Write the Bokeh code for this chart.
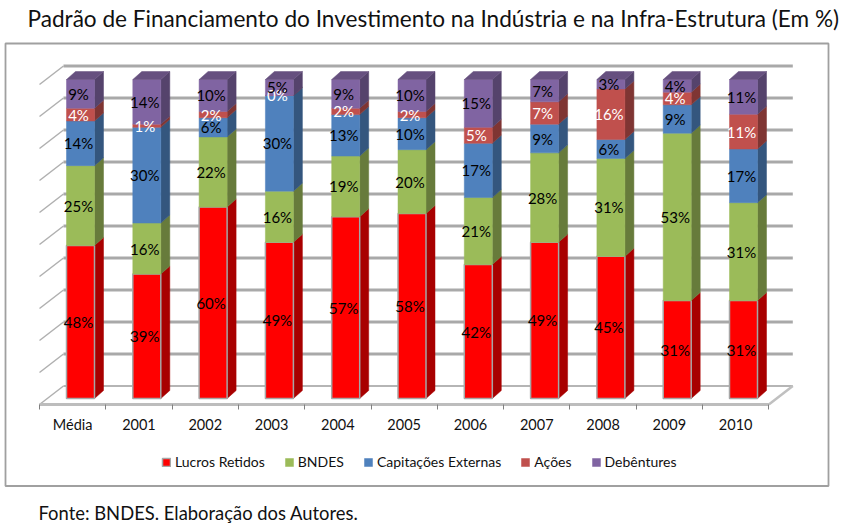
from bokeh.plotting import figure
from bokeh.models import Range1d, LinearAxis, FixedTicker, Legend, LegendItem, Label
from bokeh.core.properties import value
from bokeh.embed import file_html
from bokeh.resources import INLINE

title_text = "Padrão de Financiamento do Investimento na Indústria e na Infra-Estrutura (Em %)"
source_text = "Fonte: BNDES. Elaboração dos Autores."
categories = ["Média", "2001", "2002", "2003", "2004", "2005", "2006", "2007", "2008", "2009", "2010"]
series_names = ["Lucros Retidos", "BNDES", "Capitações Externas", "Ações", "Debêntures"]
lucros = [48, 39, 60, 49, 57, 58, 42, 49, 45, 31, 31]
bndes = [25, 16, 22, 16, 19, 20, 21, 28, 31, 53, 31]
capt = [14, 30, 6, 30, 13, 10, 17, 9, 6, 9, 17]
acoes = [4, 1, 2, 0, 2, 2, 5, 7, 16, 4, 11]
debent = [9, 14, 10, 5, 9, 10, 15, 7, 3, 4, 11]
series = [lucros, bndes, capt, acoes, debent]
front = ["#ff0000", "#9bbb59", "#4f81bd", "#c0504d", "#8064a2"]
side = ["#a80000", "#677b3b", "#34567e", "#7f3533", "#55436c"]
cap = ["#c00000", "#7c8e47", "#3f6797", "#9a403e", "#66507f"]
label_col = ["black", "black", "black", "white", "black"]

W, H = 841, 526
X0, XPX = 39, 66.3      # floor front-left, px per category
FLOOR_Y = 404
VPX = 3.19              # px per percent
BASE = 6 / VPX          # bar base above floor front
BAR_L, BAR_W = 27 / XPX, 28 / XPX
DX, DY = 9 / XPX, 8 / VPX
WALL_X, WALL_Y = 24 / XPX, 18.5 / VPX
GRID = list(range(0, 101, 10))
FONT = "Lato"


def sx(px):
    return (px - X0) / XPX


def sy(py):
    return (FLOOR_Y - py) / VPX


p = figure(width=W, height=H, output_backend="svg", toolbar_location=None,
           x_range=Range1d(sx(0), sx(W)), y_range=Range1d(sy(H), sy(0)),
           min_border_left=0, min_border_right=0, min_border_top=0, min_border_bottom=0,
           x_axis_type=None, y_axis_type=None, outline_line_color=None,
           background_fill_color="white", border_fill_color="white")
p.grid.visible = False

# chart frame
p.quad(left=[sx(5)], right=[sx(828)], top=[sy(43)], bottom=[sy(485.5)], fill_alpha=0,
       line_color="#a0a0a0", line_width=1.8)

GC = "#a9a9a9"
n = len(categories)
xw0, xw1 = WALL_X, n + WALL_X
for g in GRID:
    yb = WALL_Y + g * 320 / 319
    p.line([xw0, xw1], [yb, yb], line_color=GC if g else "#b5b5b5", line_width=3 if g else 2)
    p.line([0, xw0], [yb - WALL_Y, yb], line_color="#b0b0b0", line_width=1.5)
p.line([n, xw1], [0, WALL_Y], line_color="#c0c0c0", line_width=2.5)
p.line([0, n], [0, 0], line_color="#bdbdbd", line_width=3)

sum_col = [sum(s[i] for s in series) for i in range(n)]
items = []
bottom = [0.0] * n
for k, vals in enumerate(series):
    frac = [vals[i] * 100 / sum_col[i] for i in range(n)]
    top = [bottom[i] + frac[i] for i in range(n)]
    xl = [i + BAR_L for i in range(n)]
    xr = [x + BAR_W for x in xl]
    by = [BASE + b for b in bottom]
    ty = [BASE + t for t in top]
    side_xs = [[xr[i], xr[i] + DX, xr[i] + DX, xr[i]] for i in range(n)]
    side_ys = [[by[i], by[i] + DY, ty[i] + DY, ty[i]] for i in range(n)]
    p.patches(side_xs, side_ys, fill_color=side[k], line_color=side[k], line_width=0.5)
    r = p.vbar(x=[x + BAR_W / 2 for x in xl], width=BAR_W, bottom=by, top=ty,
               fill_color=front[k], line_color="#a6a6a6" if k == 0 else front[k], line_width=1.5 if k == 0 else 0.5)
    items.append(LegendItem(label=series_names[k], renderers=[r]))
    bottom = top
cxl = [i + BAR_L for i in range(n)]
p.patches([[x, x + DX, x + BAR_W + DX, x + BAR_W] for x in cxl],
          [[BASE + 100, BASE + 100 + DY, BASE + 100 + DY, BASE + 100] for _ in cxl],
          fill_color=cap[4], line_color=cap[4], line_width=0.5)

bottom = [0.0] * n
for k, vals in enumerate(series):
    frac = [vals[i] * 100 / sum_col[i] for i in range(n)]
    xs = [i + BAR_L + BAR_W / 2 - 2 / XPX for i in range(n)]
    ys = [BASE + bottom[i] + frac[i] / 2 for i in range(n)]
    p.text(xs, ys, text=[f"{v}%" for v in vals], text_font=value(FONT), text_font_size="15px",
           text_color=label_col[k], text_align="center", text_baseline="middle")
    bottom = [bottom[i] + frac[i] for i in range(n)]

ax = LinearAxis(ticker=FixedTicker(ticks=[i + 0.5 for i in range(n)], minor_ticks=list(range(n + 1))),
                major_label_overrides={i + 0.5: c for i, c in enumerate(categories)},
                major_tick_line_color=None, major_tick_out=0, major_tick_in=0,
                minor_tick_line_color="#808080", minor_tick_out=5, minor_tick_in=0,
                axis_line_color=None, major_label_standoff=6, fixed_location=0,
                major_label_text_font=FONT, major_label_text_font_size="14.5px", major_label_text_color="#111111")
p.add_layout(ax, "below")

leg = Legend(items=items, orientation="horizontal", location=(161, H - 470), glyph_width=10, glyph_height=10,
             label_standoff=4, spacing=19, padding=0, margin=0, background_fill_alpha=0, border_line_alpha=0,
             label_text_font=FONT, label_text_font_size="14px", label_text_color="#111111")
p.add_layout(leg)

p.add_layout(Label(x=27, y=H - 18, x_units="screen", y_units="screen", text=title_text, text_font=FONT,
                   text_font_size="22.6px", text_color="#111111", text_baseline="middle"))
p.add_layout(Label(x=38, y=H - 512, x_units="screen", y_units="screen", text=source_text, text_font=FONT,
                   text_font_size="18.4px", text_color="#111111", text_baseline="middle"))

open("out.html", "w").write(file_html(p, INLINE))
